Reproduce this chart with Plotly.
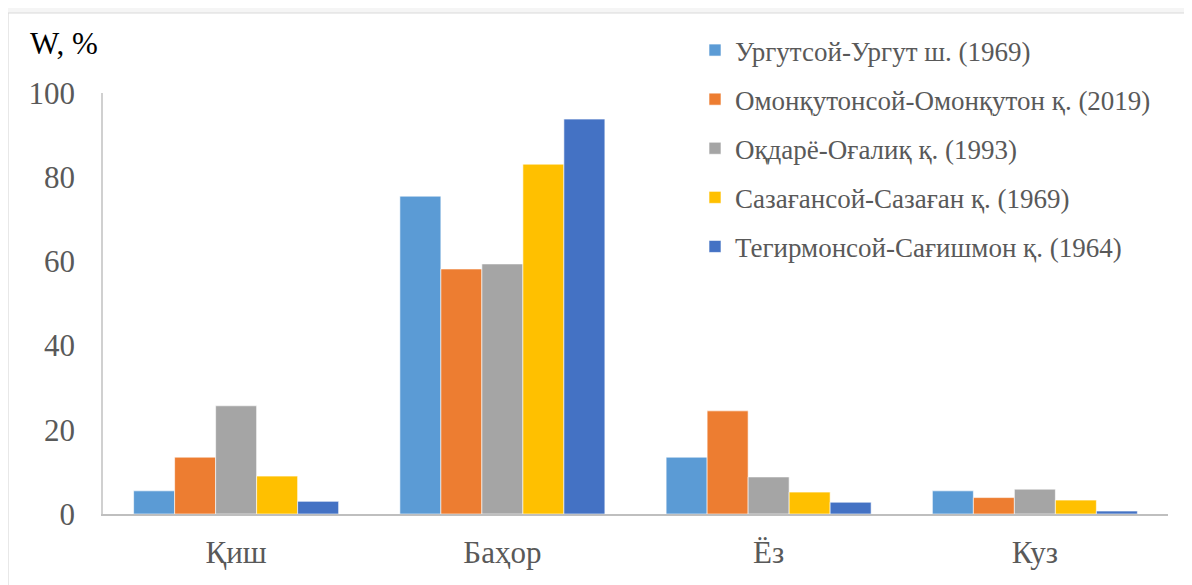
import plotly.graph_objects as go

categories = ["Қиш", "Баҳор", "Ёз", "Куз"]
series_names = [
    "Ургутсой-Ургут ш. (1969)",
    "Омонқутонсой-Омонқутон қ. (2019)",
    "Оқдарё-Оғалиқ қ. (1993)",
    "Сазағансой-Сазаған қ. (1969)",
    "Тегирмонсой-Сағишмон қ. (1964)",
]
urgut = [5.5, 75.5, 13.5, 5.5]
omonqo = [13.5, 58.2, 24.5, 3.9]
oqdaryo = [25.7, 59.4, 8.8, 5.9]
sazagan = [9.0, 83.1, 5.2, 3.3]
tegirmon = [3.0, 93.8, 2.8, 0.7]
series_values = [urgut, omonqo, oqdaryo, sazagan, tegirmon]
colors = ["#5B9BD5", "#ED7D31", "#A5A5A5", "#FFC000", "#4472C4"]
y_ticks = [0, 20, 40, 60, 80, 100]

# page body has an 8px margin, so figure coordinates = page coordinates - 8
OFF = 8
W, H = 1192, 585
ML, MT = 103 - OFF, 93 - OFF
MR = W - (1168 - OFF)
MB = H - (514 - OFF)
pw = W - ML - MR
ph = H - MT - MB


def px_x(px):  # page x -> paper x
    return (px - OFF - ML) / pw


def px_y(py):  # page y -> paper y
    return (H - MB - (py - OFF)) / ph


fig = go.Figure()
for i, (name, vals) in enumerate(zip(series_names, series_values)):
    fig.add_trace(go.Bar(
        x=categories, y=vals, name=name,
        marker=dict(color=colors[i], line=dict(color="white", width=0.6)),
        legendgroup=f"g{i}",
    ))

FONT = "Liberation Serif"

fig.add_shape(type="rect", xref="paper", yref="paper",
              x0=px_x(8), x1=1.2, y0=-0.5, y1=px_y(13),
              fillcolor="white", line=dict(color="#D9D9D9", width=1.2),
              layer="below")

fig.add_annotation(text="W, %", xref="paper", yref="paper",
                   x=px_x(28), y=px_y(43),
                   xanchor="left", yanchor="middle", showarrow=False,
                   font=dict(family=FONT, size=31, color="black"))

fig.update_layout(
    width=W, height=H,
    margin=dict(l=ML, r=MR, t=MT, b=MB, pad=0),
    paper_bgcolor="#F5F5F5",
    plot_bgcolor="rgba(0,0,0,0)",
    barmode="group",
    bargap=0.23,
    bargroupgap=0,
    font=dict(family=FONT, color="#595959"),
    legend=dict(
        x=px_x(695), y=px_y(26),
        xanchor="left", yanchor="top",
        font=dict(family=FONT, size=27, color="#595959"),
        bgcolor="rgba(0,0,0,0)",
        traceorder="grouped",
        tracegroupgap=11,
        itemwidth=30,
    ),
    showlegend=True,
)
fig.update_xaxes(
    showline=True, linecolor="#BFBFBF", linewidth=2,
    showgrid=False, ticks="",
    tickfont=dict(family=FONT, size=31, color="#595959"),
    ticklabelstandoff=10,
)
fig.update_yaxes(
    range=[0, 100], tickvals=y_ticks,
    showline=True, linecolor="#D0D0D0", linewidth=1.5,
    showgrid=False, zeroline=False, ticks="",
    tickfont=dict(family=FONT, size=31, color="#595959"),
    ticklabelstandoff=20,
)

fig.write_html("out.html")
